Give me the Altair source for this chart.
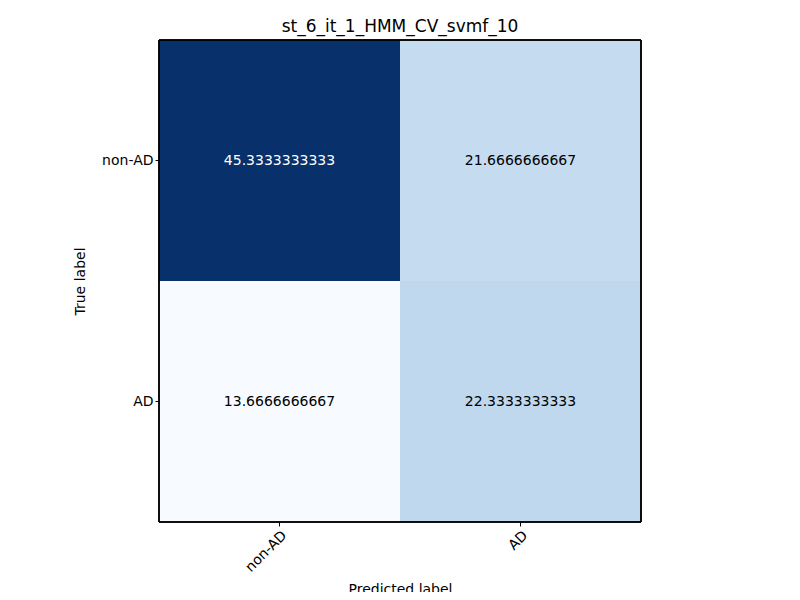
import altair as alt
import pandas as pd

true_labels = ["non-AD", "non-AD", "AD", "AD"]
pred_labels = ["non-AD", "AD", "non-AD", "AD"]
values = [45.3333333333, 21.6666666667, 13.6666666667, 22.3333333333]
order = ["non-AD", "AD"]

df = pd.DataFrame({"true": true_labels, "pred": pred_labels, "value": values})
df["label"] = [f"{v:.10f}" for v in values]
vmin, vmax = min(values), max(values)
thresh = vmax / 2.0

blues = ['#f7fbff', '#deebf7', '#c6dbef', '#9ecae1', '#6baed6',
         '#4292c6', '#2171b5', '#08519c', '#08306b']
dom = [vmin + (vmax - vmin) * i / 8 for i in range(9)]

font = "DejaVu Sans"
base = alt.Chart(df).encode(
    x=alt.X("pred:N", sort=order, title="Predicted label",
            axis=alt.Axis(labelAngle=-45, labelAlign="right", labelBaseline="top",
                          labelFontSize=14, titleFontSize=14, titleFontWeight="normal",
                          labelFont=font, titleFont=font, domain=False, tickColor="black",
                          tickSize=4, labelColor="black", titleColor="black", titlePadding=8)),
    y=alt.Y("true:N", sort=order, title="True label",
            axis=alt.Axis(labelFontSize=14, titleFontSize=14, titleFontWeight="normal",
                          labelFont=font, titleFont=font, domain=False, tickColor="black",
                          tickSize=4, labelColor="black", titleColor="black", labelAngle=0,
                          titlePadding=14)),
)

rects = base.mark_rect().encode(
    color=alt.Color("value:Q", scale=alt.Scale(domain=dom, range=blues), legend=None)
)
text = base.mark_text(fontSize=14, font=font).encode(
    text="label:N",
    color=alt.condition(alt.datum.value > thresh, alt.value("white"), alt.value("black")),
)
border = alt.Chart(df).mark_rect(fill=None, stroke="black", strokeWidth=1).encode(
    x=alt.value(0), x2=alt.value(482), y=alt.value(0), y2=alt.value(482)
)

chart = (rects + text + border).properties(
    width=482, height=482,
    title=alt.Title("st_6_it_1_HMM_CV_svmf_10", fontSize=17, font=font,
                    fontWeight="normal", color="black"),
    autosize=alt.AutoSizeParams(type="none"),
    padding={"left": 151, "top": 32, "right": 151, "bottom": 70},
).configure_view(strokeWidth=0).configure_scale(bandPaddingInner=0, bandPaddingOuter=0)

chart.save("out.html", embed_options={"renderer": "svg", "actions": False})
